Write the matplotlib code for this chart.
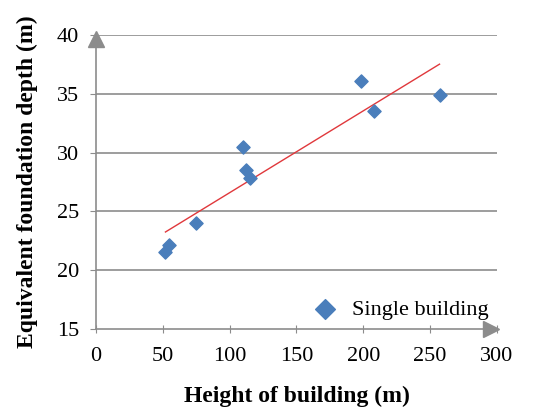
import numpy as np
import matplotlib.pyplot as plt

# Data
height = [52, 55, 75, 110, 112, 115, 198, 208, 257]
depth = [21.5, 22.1, 24.0, 30.5, 28.5, 27.8, 36.1, 33.5, 34.9]

x_ticks = [0, 50, 100, 150, 200, 250, 300]
y_ticks = [15, 20, 25, 30, 35, 40]

plt.rcParams['font.family'] = ['Liberation Serif', 'DejaVu Serif']

fig = plt.figure(figsize=(5.42, 4.07), dpi=100)
ax = fig.add_axes([0.177, 0.192, 0.740, 0.722])

# Gridlines
for yv in y_ticks[1:]:
    ax.axhline(yv, color="#8c8c8c", lw=1.2, zorder=0)

# Linear trendline
k, b = np.polyfit(height, depth, 1)
xs = np.array([min(height), max(height)])
ax.plot(xs, k * xs + b, color="#e0383c", lw=1.0, zorder=2)

# Points
ax.scatter(height, depth, marker="D", s=45, color="#4a7ebb", zorder=3,
           label="Single building")

ax.set_xlim(0, 300)
ax.set_ylim(15, 40)
ax.set_xticks(x_ticks)
ax.set_yticks(y_ticks)

for s in ["top", "right"]:
    ax.spines[s].set_visible(False)
for s in ["left", "bottom"]:
    ax.spines[s].set_color("#8c8c8c")
    ax.spines[s].set_linewidth(1.2)

ax.tick_params(axis="x", direction="inout", length=6, color="#8c8c8c",
               labelsize=16, pad=10)
ax.tick_params(axis="y", direction="out", length=4, color="#8c8c8c",
               labelsize=16, pad=8)

# Axis arrows
ax.plot([0], [0.985], marker="^", ms=11, color="#8c8c8c",
        transform=ax.transAxes, clip_on=False)
ax.plot([0.985], [0], marker=">", ms=11, color="#8c8c8c",
        transform=ax.transAxes, clip_on=False)

ax.set_xlabel("Height of building (m)", fontsize=17, fontweight="bold", labelpad=14)
ax.set_ylabel("Equivalent foundation depth (m)", fontsize=17, fontweight="bold",
              labelpad=14)

ax.legend(loc="lower right", frameon=False, fontsize=16, markerscale=1.5,
          handletextpad=0.2, borderaxespad=0.0, bbox_to_anchor=(1.0, 0.0))

plt.savefig("out.png", dpi=100)
